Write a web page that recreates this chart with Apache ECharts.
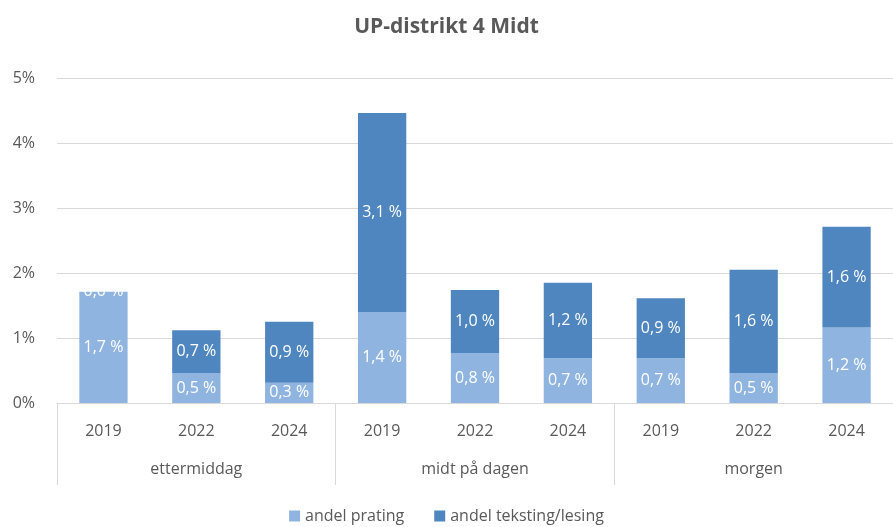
<!DOCTYPE html>
<html>
<head>
<meta charset="utf-8">
<script src="https://cdn.jsdelivr.net/npm/echarts@6/dist/echarts.min.js"></script>
<style>
  html, body { margin: 0; padding: 0; background: #fff; }
  #chart { width: 893px; height: 527px; }
</style>
</head>
<body>
<div id="chart"></div>
<script>
// data
var years = ['2019', '2022', '2024', '2019', '2022', '2024', '2019', '2022', '2024'];
var groups = ['ettermiddag', 'midt på dagen', 'morgen'];
var prating = [1.71, 0.46, 0.31, 1.40, 0.77, 0.69, 0.69, 0.46, 1.16];
var teksting = [0.0, 0.66, 0.94, 3.06, 0.97, 1.16, 0.92, 1.59, 1.55];

var fontFam = '"Open Sans", "Noto Sans", sans-serif';
var txtColor = '#595959';

function fmt(p) {
    return p.value.toFixed(1).replace('.', ',') + ' %';
}

var chart = echarts.init(document.getElementById('chart'));
var option = {
    animation: false,
    title: {
        text: 'UP-distrikt 4 Midt',
        left: 'center',
        top: 12,
        textStyle: { fontFamily: fontFam, fontSize: 21, fontWeight: 'bold', color: txtColor }
    },
    legend: {
        bottom: -2,
        left: 'center',
        itemWidth: 11,
        itemHeight: 11,
        itemGap: 30,
        icon: 'rect',
        textStyle: { fontFamily: fontFam, fontSize: 16, color: txtColor },
        data: ['andel prating', 'andel teksting/lesing']
    },
    grid: { left: 57, right: -12, top: 78, bottom: 124 },
    xAxis: [
        {
            type: 'category',
            data: years,
            axisLine: { lineStyle: { color: '#d9d9d9' } },
            axisTick: { show: false },
            axisLabel: { fontFamily: fontFam, fontSize: 16, color: txtColor, margin: 20 }
        },
        {
            type: 'category',
            data: groups,
            position: 'bottom',
            axisLine: { show: false },
            axisTick: { show: true, length: 82, interval: 0, lineStyle: { color: '#d9d9d9' } },
            axisLabel: { fontFamily: fontFam, fontSize: 16, color: txtColor, margin: 58 }
        }
    ],
    yAxis: {
        type: 'value',
        min: 0,
        max: 5,
        interval: 1,
        axisLine: { show: false },
        axisTick: { show: false },
        splitLine: { lineStyle: { color: '#d9d9d9' } },
        axisLabel: { fontFamily: fontFam, fontSize: 16, color: txtColor, margin: 22, formatter: '{value}%' }
    },
    series: [
        {
            name: 'andel prating',
            type: 'bar',
            stack: 'a',
            barWidth: '52%',
            data: prating,
            itemStyle: { color: '#8fb4e0' },
            label: { show: true, position: 'inside', color: '#fff', fontFamily: fontFam, fontSize: 16, fontWeight: 500, formatter: fmt }
        },
        {
            name: 'andel teksting/lesing',
            type: 'bar',
            stack: 'a',
            data: teksting,
            itemStyle: { color: '#4f86bf' },
            label: { show: true, position: 'inside', color: '#fff', fontFamily: fontFam, fontSize: 16, fontWeight: 500, formatter: fmt }
        }
    ]
};
chart.setOption(option);
</script>
</body>
</html>
